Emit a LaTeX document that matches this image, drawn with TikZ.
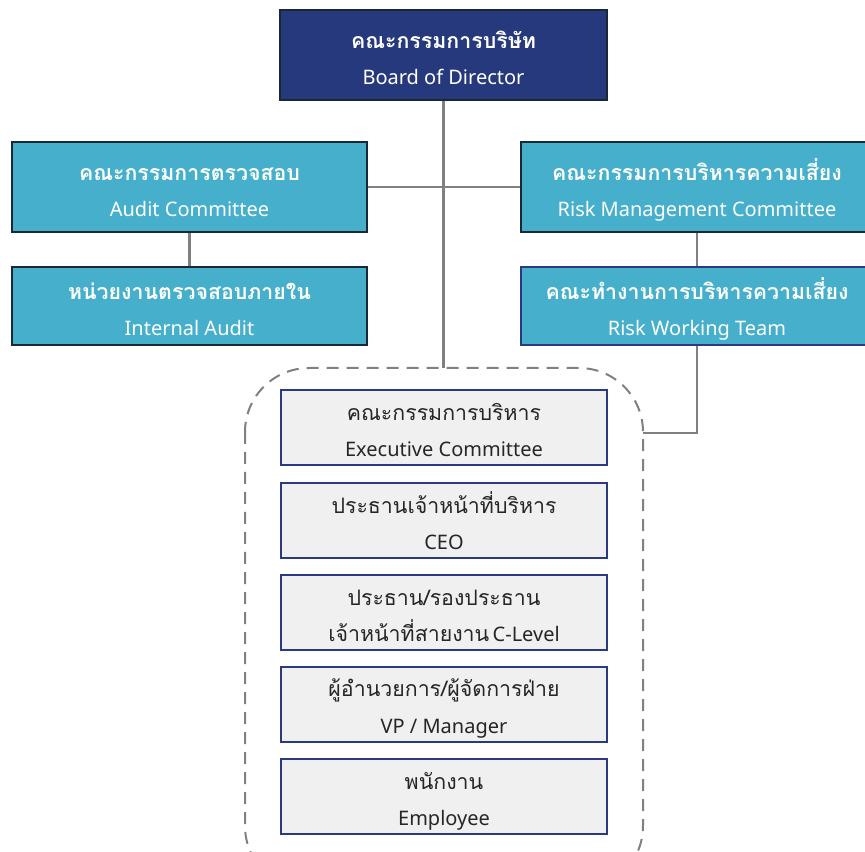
\documentclass[tikz,border=0pt]{standalone}
\usepackage{fontspec}
\setmainfont{Noto Sans}
\newfontfamily\thaifont[Script=Thai]{Loma}
\definecolor{navy}{RGB}{38,57,125}
\definecolor{navyline}{RGB}{43,58,128}
\definecolor{teal}{RGB}{70,175,203}
\definecolor{darkedge}{RGB}{25,40,55}
\definecolor{lightbox}{RGB}{240,240,240}
\definecolor{conn}{RGB}{128,128,128}
\newcommand{\thb}[1]{{\thaifont\bfseries\fontsize{16}{18}\selectfont #1}}
\newcommand{\thr}[1]{{\thaifont\fontsize{16}{18}\selectfont #1}}
\newcommand{\eng}[1]{{\fontsize{15}{18}\selectfont #1}}
\newcommand{\gap}{\\[15pt]}
\begin{document}
\begin{tikzpicture}[x=0.75pt,y=-0.75pt,
  base/.style={rectangle, line width=1.6pt, align=center, inner sep=0pt, text height=44pt, text depth=0pt},
  board/.style={base, fill=navy, draw=darkedge, text=white, minimum width=327*0.75pt, minimum height=90*0.75pt},
  tealbox/.style={base, fill=teal, draw=darkedge, text=white, minimum width=355*0.75pt, minimum height=90*0.75pt},
  tealsm/.style={tealbox, minimum height=78*0.75pt},
  inner/.style={base, fill=lightbox, draw=navyline, text=black!85, minimum width=326*0.75pt, minimum height=75*0.75pt},
  conn/.style={draw=conn, line width=1.8pt}
]
\useasboundingbox (0,0) rectangle (865,852);
\begin{scope}
\clip (0,0) rectangle (865,852);
% dashed frame
\draw[conn, dashed, dash pattern=on 9pt off 6pt, line width=1.5pt, rounded corners=48pt] (245,368) rectangle (643,890);
\coordinate (dtop) at (443.5,368);
\coordinate (dright) at (643,433);
\coordinate (bend) at (697,433);

% boxes
\node[board] (bod) at (443.5,55) {\thb{คณะกรรมการบริษัท}\gap\eng{Board of Director}};
\node[tealbox] (ac) at (189.5,187) {\thb{คณะกรรมการตรวจสอบ}\gap\eng{Audit Committee}};
\node[tealsm] (ia) at (189.5,306) {\thb{หน่วยงานตรวจสอบภายใน}\gap\eng{Internal Audit}};
\node[tealbox, minimum width=352*0.75pt] (rmc) at (697,187) {\thb{คณะกรรมการบริหารความเสี่ยง}\gap\eng{Risk Management Committee}};
\node[tealsm, draw=navyline, minimum width=352*0.75pt] (rwt) at (697,306) {\thb{คณะทำงานการบริหารความเสี่ยง}\gap\eng{Risk Working Team}};

% connectors
\draw[conn] (bod.south) -- (dtop);
\draw[conn] (ac.east) -- (rmc.west);
\draw[conn] (ac.south) -- (ia.north);
\draw[conn] (rmc.south) -- (rwt.north);
\draw[conn] (rwt.south) -- (bend) -- (dright);

% inner boxes
\node[inner] (ec) at (444,427.5) {\thr{คณะกรรมการบริหาร}\gap\eng{Executive Committee}};
\node[inner] (ceo) at (444,520.5) {\thr{ประธานเจ้าหน้าที่บริหาร}\gap\eng{CEO}};
\node[inner] (cl) at (444,612.5) {\thr{ประธาน/รองประธาน}\\[10pt]\thr{เจ้าหน้าที่สายงาน} \eng{C-Level}};
\node[inner] (vp) at (444,704.5) {\thr{ผู้อำนวยการ/ผู้จัดการฝ่าย}\\[12pt]\eng{VP / Manager}};
\node[inner] (emp) at (444,796.5) {\thr{พนักงาน}\gap\eng{Employee}};
\end{scope}
\end{tikzpicture}
\end{document}
